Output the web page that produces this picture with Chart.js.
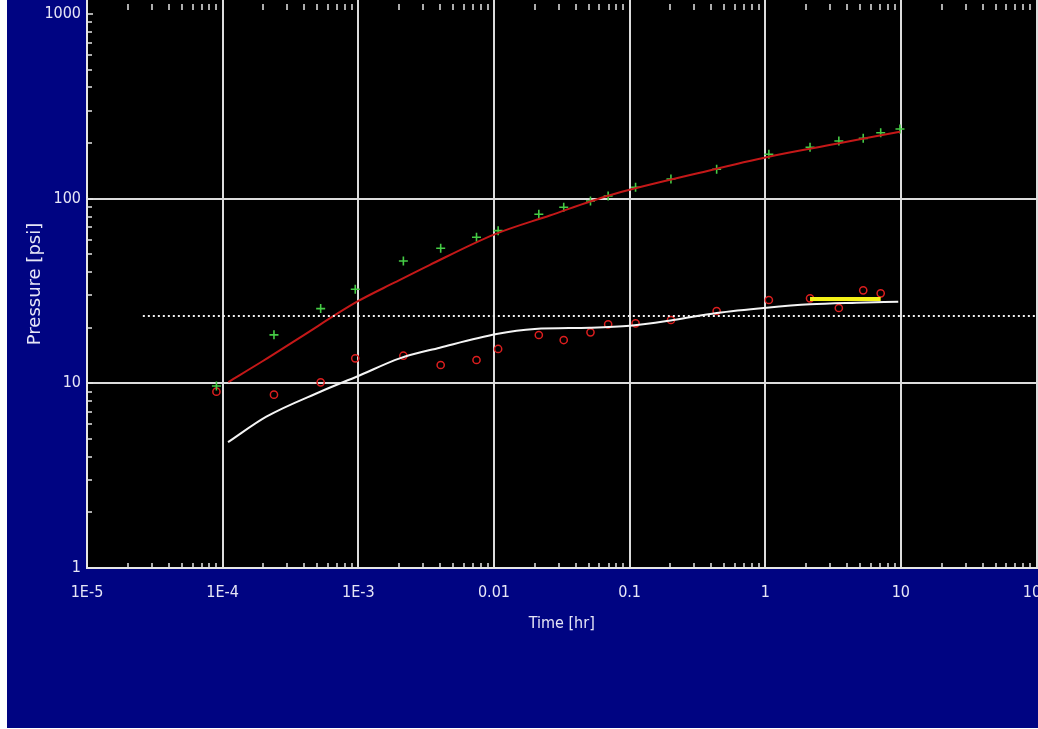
<!DOCTYPE html>
<html>
<head>
<meta charset="utf-8">
<title>Pressure / derivative log-log plot</title>
<script src="https://cdn.jsdelivr.net/npm/chart.js@4.4.1/dist/chart.umd.min.js"></script>
<style>
  html, body { margin: 0; padding: 0; background: #ffffff; overflow: hidden; }
  #wrap { position: absolute; left: 7px; top: 0; width: 1031px; height: 728px; }
  canvas { display: block; }
</style>
</head>
<body>
<div id="wrap"><canvas id="plot" width="1031" height="728"></canvas></div>
<script>
// Axis ticks
const xTickValues = [1e-5, 1e-4, 1e-3, 0.01, 0.1, 1, 10, 100];
const xTickLabels = ['1E-5', '1E-4', '1E-3', '0.01', '0.1', '1', '10', '100'];
const yTickValues = [1, 10, 100, 1000];
const yTickLabels = ['1', '10', '100', '1000'];

// Measured data: elapsed time [hr], pressure change and its derivative [psi]
const sampleTime = [9.0e-5, 2.39e-4, 5.28e-4, 9.5e-4, 2.15e-3, 4.05e-3, 7.44e-3, 0.01074, 0.02143, 0.0327,
                    0.0515, 0.0695, 0.1107, 0.2018, 0.4385, 1.064, 2.14, 3.49, 5.28, 7.10, 9.85];
const pressureChange = [9.67, 18.3, 25.4, 32.3, 46.0, 53.9, 61.8, 67.1, 82.3, 89.8,
                        97.1, 103.4, 115.2, 127.8, 144.2, 173.9, 189.7, 205.3, 212.2, 227.7, 238.4];
const pressureDerivative = [9.01, 8.68, 10.13, 13.66, 14.11, 12.57, 13.38, 15.35, 18.27, 17.16,
                            18.89, 20.87, 21.14, 22.03, 24.65, 28.27, 28.87, 25.58, 31.90, 30.73, null];

// Model match: pressure response
const modelPressureTime = [1.1e-4, 1.98e-4, 3.71e-4, 9.8e-4, 1.86e-3, 3.35e-3, 0.0101, 0.0258, 0.0695, 0.33, 1.06, 3.27, 9.85];
const modelPressure = [10.17, 13.21, 17.69, 27.67, 35.2, 43.7, 64.1, 81.1, 103.8, 138.2, 168.8, 197.5, 230.5];

// Model match: derivative response
const modelDerivTime = [1.096e-4, 2.10e-4, 5.2e-4, 1.0e-3, 2.02e-3, 3.99e-3, 0.01045, 0.02, 0.0509, 0.1005,
                        0.21, 0.4385, 1.024, 2.14, 4.72, 9.57];
const modelDerivative = [4.80, 6.60, 8.98, 10.96, 13.66, 15.6, 18.5, 19.69, 20.01, 20.51,
                         22.03, 24.04, 25.68, 26.79, 27.33, 27.67];

// Horizontal reference level and radial-flow selection
const referenceTime = [2.58e-5, 100];
const referenceLevel = [23.15, 23.15];
const radialFlowTime = [2.14, 7.10];
const radialFlowLevel = [28.6, 28.6];

const pairs = (xs, ys) => xs.map((t, i) => ({ x: t, y: ys[i] }));

const textColor = '#e6e6f6';
const gridColor = '#dcdcdc';

function sameValue(a, b) { return Math.abs(Math.log10(a) - Math.log10(b)) < 1e-6; }

// Page and plot backgrounds
const backdrop = {
  id: 'backdrop',
  beforeDraw(chart) {
    const { ctx, chartArea: a, width, height } = chart;
    ctx.save();
    ctx.fillStyle = '#000482';
    ctx.fillRect(0, 0, width, height);
    ctx.fillStyle = '#000000';
    ctx.fillRect(a.left, a.top, a.right - a.left, a.bottom - a.top);
    ctx.restore();
  }
};

// Small tick marks drawn inside the plot edges
const innerTicks = {
  id: 'innerTicks',
  beforeDatasetsDraw(chart) {
    const { ctx, chartArea: a, scales } = chart;
    const xs = scales.x, ys = scales.y;
    ctx.save();
    ctx.strokeStyle = '#e6e6e6';
    ctx.lineWidth = 1.5;
    ctx.beginPath();
    for (let e = -5; e < 2; e++) {
      for (let m = 2; m <= 9; m++) {
        const px = Math.round(xs.getPixelForValue(m * Math.pow(10, e)));
        ctx.moveTo(px, a.bottom); ctx.lineTo(px, a.bottom - 5);
        ctx.moveTo(px, a.top + 4); ctx.lineTo(px, a.top + 10);
      }
    }
    for (let e = 0; e < 3; e++) {
      for (let m = 2; m <= 9; m++) {
        const py = Math.round(ys.getPixelForValue(m * Math.pow(10, e)));
        ctx.moveTo(a.left, py); ctx.lineTo(a.left + 5, py);
      }
    }
    yTickValues.forEach(v => {
      const py = Math.round(ys.getPixelForValue(v));
      ctx.moveTo(a.left, py); ctx.lineTo(a.left + 6, py);
    });
    ctx.stroke();
    ctx.restore();
  }
};

new Chart(document.getElementById('plot'), {
  type: 'scatter',
  data: {
    datasets: [
      {
        label: 'Reference level',
        data: pairs(referenceTime, referenceLevel),
        showLine: true, pointRadius: 0,
        borderColor: '#f2f2f2', borderWidth: 2, borderDash: [2, 3]
      },
      {
        label: 'Model derivative',
        data: pairs(modelDerivTime, modelDerivative),
        showLine: true, pointRadius: 0, cubicInterpolationMode: 'monotone',
        borderColor: '#f4f4f4', borderWidth: 2
      },
      {
        label: 'Model pressure',
        data: pairs(modelPressureTime, modelPressure),
        showLine: true, pointRadius: 0, cubicInterpolationMode: 'monotone',
        borderColor: '#c41818', borderWidth: 2
      },
      {
        label: 'Radial flow',
        data: pairs(radialFlowTime, radialFlowLevel),
        showLine: true, pointRadius: 0,
        borderColor: '#f4f218', borderWidth: 4
      },
      {
        label: 'Pressure change',
        data: pairs(sampleTime, pressureChange),
        showLine: false, pointStyle: 'cross', pointRadius: 4.5,
        borderColor: '#45cc45', borderWidth: 1.6
      },
      {
        label: 'Pressure derivative',
        data: pairs(sampleTime, pressureDerivative),
        showLine: false, pointStyle: 'circle', pointRadius: 3.6,
        borderColor: '#dc1e1e', backgroundColor: 'rgba(0,0,0,0)', borderWidth: 1.5
      }
    ]
  },
  options: {
    responsive: false,
    animation: false,
    devicePixelRatio: 1,
    layout: { autoPadding: false, padding: { left: 0, top: 0, right: 1.5, bottom: 0 } },
    plugins: {
      legend: { display: false },
      tooltip: { enabled: false }
    },
    scales: {
      x: {
        type: 'logarithmic',
        position: 'bottom',
        min: 1e-5,
        max: 100,
        afterBuildTicks: axis => { axis.ticks = xTickValues.map(v => ({ value: v, major: true })); },
        afterFit: axis => { axis.height = 160; axis.paddingLeft = 0; axis.paddingRight = 0; },
        ticks: {
          autoSkip: false, maxRotation: 0, minRotation: 0,
          padding: 15,
          color: textColor,
          font: { family: 'DejaVu Sans Condensed', size: 16 },
          callback: v => {
            const i = xTickValues.findIndex(t => sameValue(t, v));
            return i >= 0 ? xTickLabels[i] : '';
          }
        },
        grid: {
          drawTicks: false,
          lineWidth: 2,
          color: c => (c.tick && c.tick.value > 1e-5) ? gridColor : 'rgba(0,0,0,0)'
        },
        border: { display: true, color: '#e6e6e6', width: 2 },
        title: {
          display: true,
          text: 'Time [hr]',
          color: textColor,
          font: { family: 'DejaVu Sans Condensed', size: 16 },
          padding: { top: 0, bottom: 95 }
        }
      },
      y: {
        type: 'logarithmic',
        position: 'left',
        min: 1,
        max: 1190.8,
        afterBuildTicks: axis => { axis.ticks = yTickValues.map(v => ({ value: v, major: true })); },
        afterFit: axis => { axis.width = 80; axis.paddingTop = 0; axis.paddingBottom = 0; },
        ticks: {
          autoSkip: false,
          padding: 6,
          color: textColor,
          font: { family: 'DejaVu Sans Condensed', size: 16 },
          callback: v => {
            const i = yTickValues.findIndex(t => sameValue(t, v));
            return i >= 0 ? yTickLabels[i] : '';
          }
        },
        grid: {
          drawTicks: false,
          lineWidth: 2,
          color: c => (c.tick && (c.tick.value === 10 || c.tick.value === 100)) ? gridColor : 'rgba(0,0,0,0)'
        },
        border: { display: true, color: '#e6e6e6', width: 2 },
        title: {
          display: true,
          text: 'Pressure [psi]',
          color: textColor,
          font: { family: 'DejaVu Sans', size: 18 },
          padding: { top: 18, bottom: 0 }
        }
      }
    }
  },
  plugins: [backdrop, innerTicks]
});
</script>
</body>
</html>
